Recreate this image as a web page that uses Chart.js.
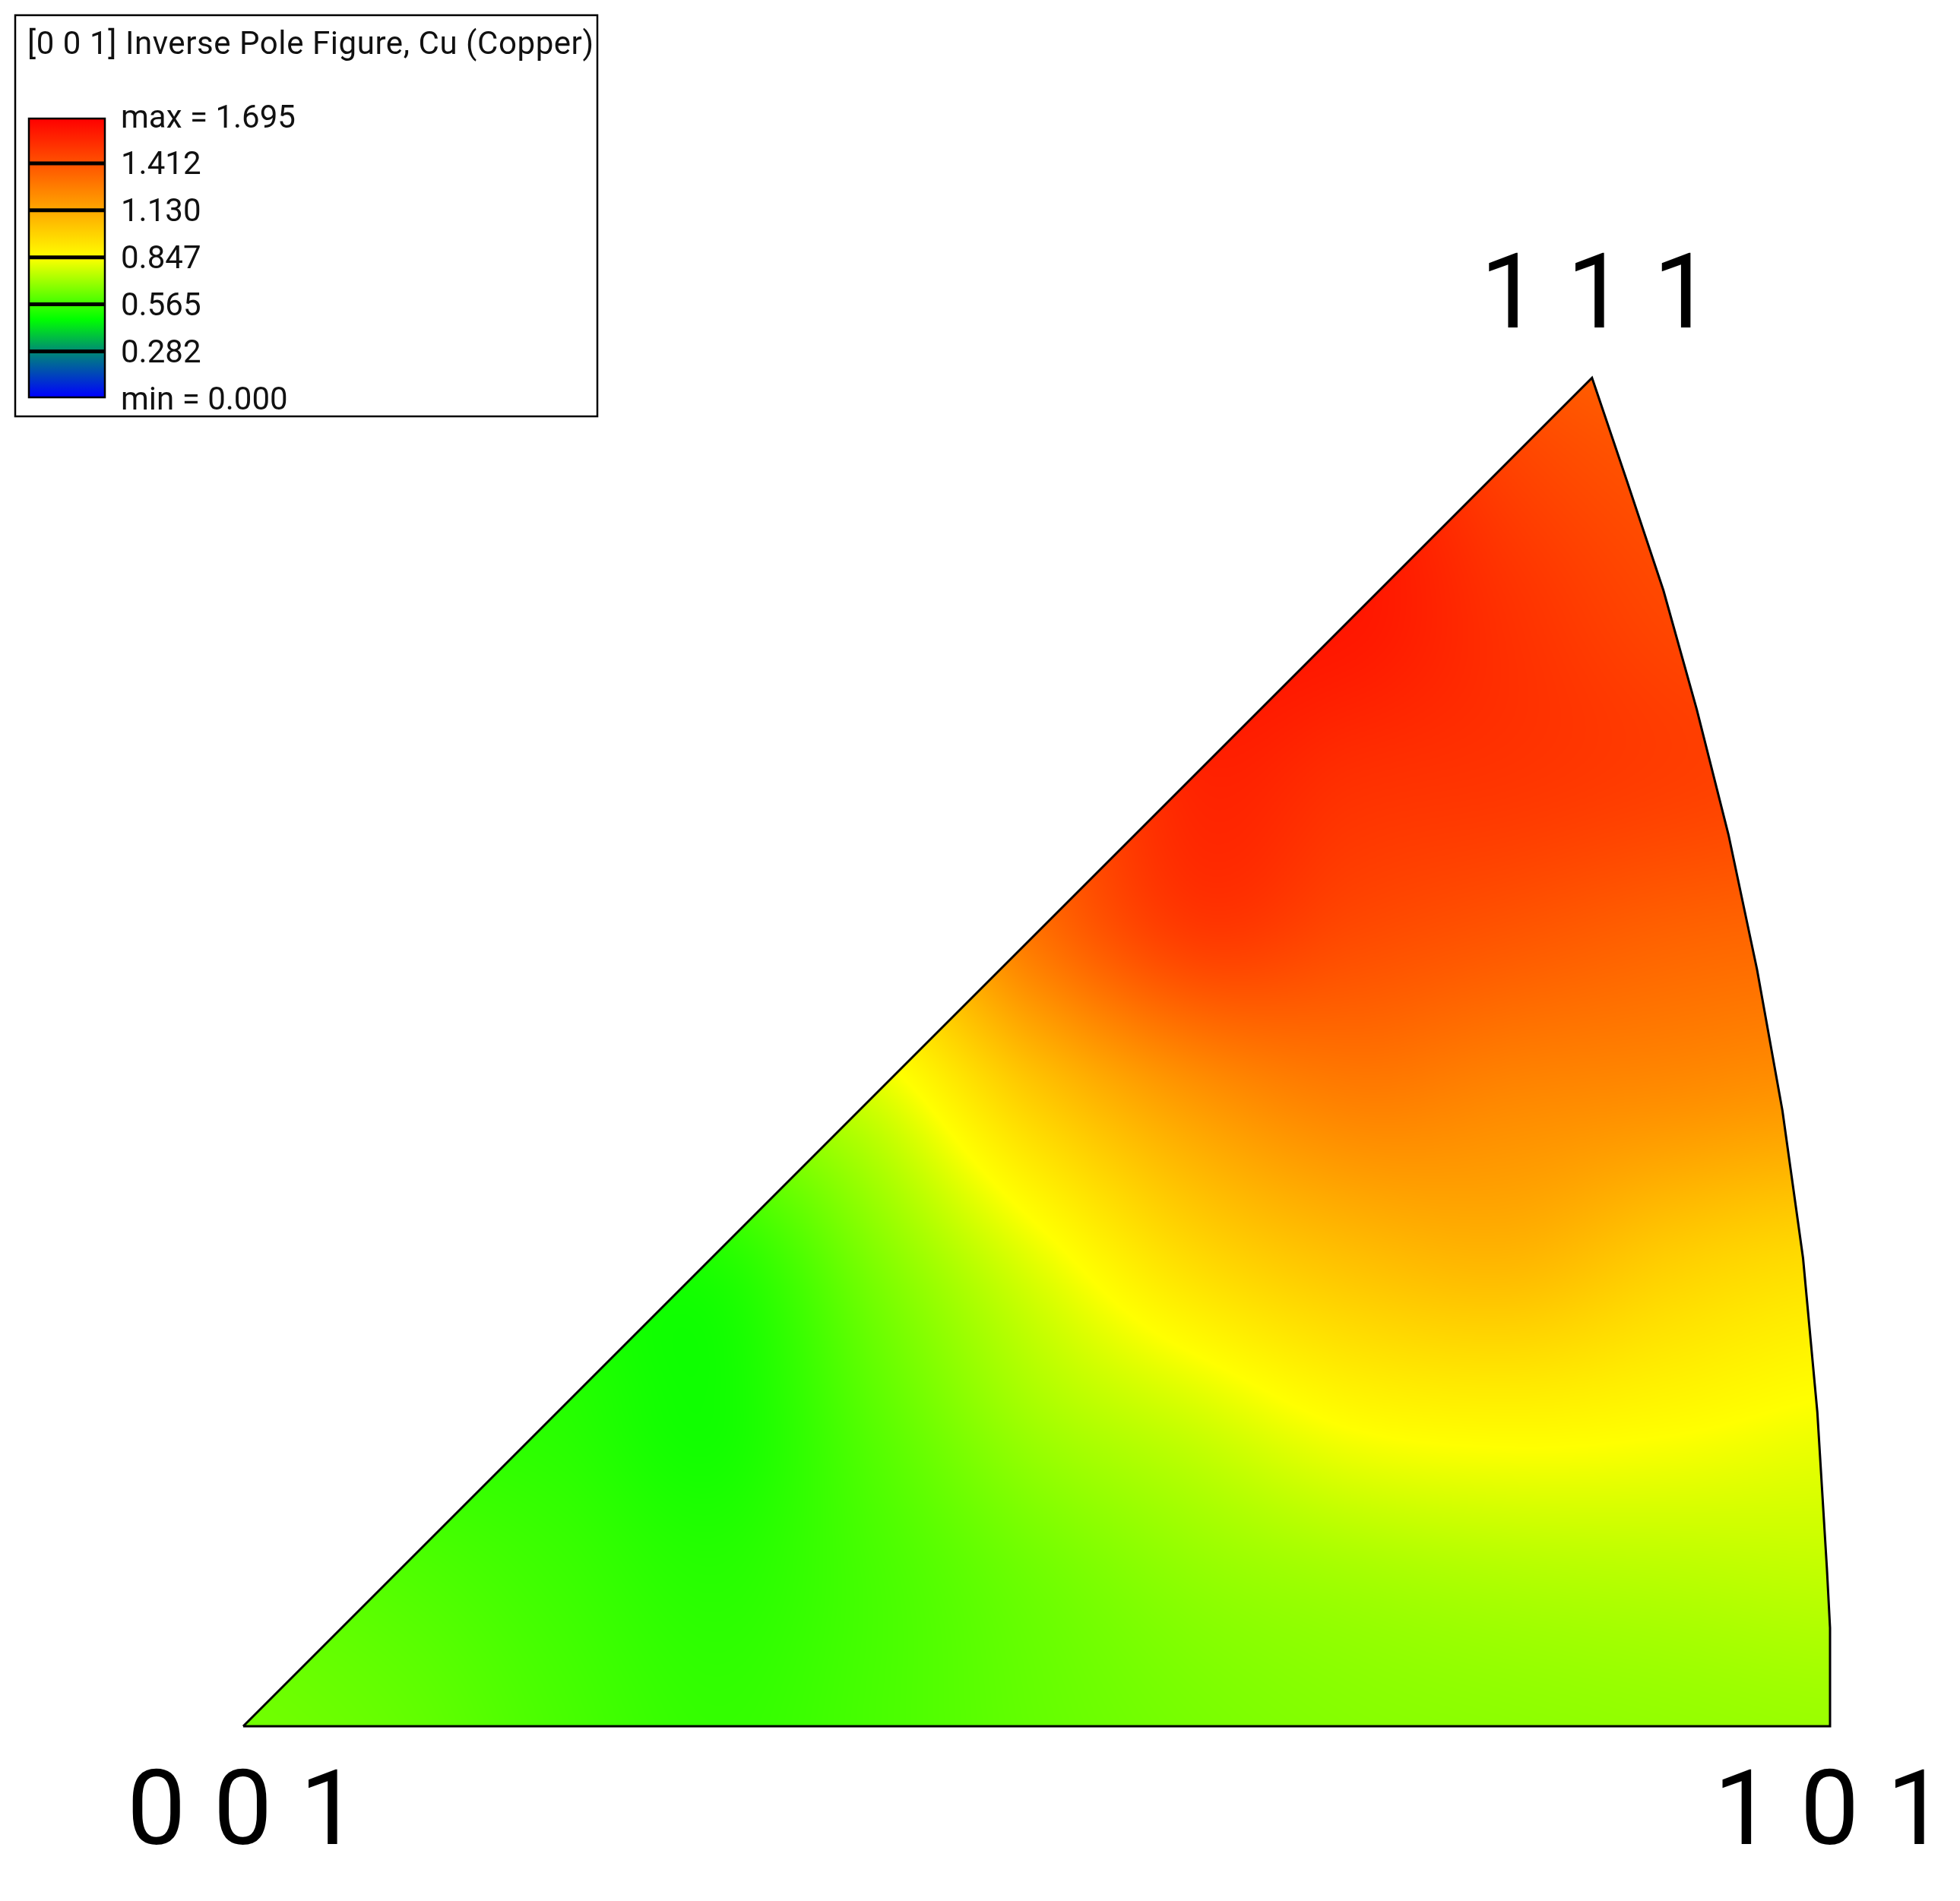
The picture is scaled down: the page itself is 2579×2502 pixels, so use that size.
<!DOCTYPE html>
<html>
<head>
<meta charset="utf-8">
<title>Inverse Pole Figure</title>
<script src="https://cdn.jsdelivr.net/npm/chart.js@4"></script>
<style>
  html, body { margin: 0; padding: 0; background: #fff; }
  canvas { display: block; }
</style>
</head>
<body>
<canvas id="ipfChart" width="2579" height="2502"></canvas>
<script>
// intensity, on a grid over the projected triangle
const gridX = [0, 0.1, 0.2, 0.3, 0.4, 0.5, 0.6, 0.7, 0.8, 0.9, 1.0, 1.1];
const gridY = [0, 0.1, 0.2, 0.3, 0.4, 0.5, 0.6, 0.7, 0.8, 0.9];
const row00 = [0.64, 0.62, 0.58, 0.55, 0.58, 0.62, 0.65, 0.67, 0.68, 0.69, 0.70, 0.70];
const row01 = [0.61, 0.59, 0.56, 0.53, 0.58, 0.64, 0.69, 0.72, 0.74, 0.75, 0.76, 0.76];
const row02 = [0.56, 0.54, 0.53, 0.50, 0.61, 0.72, 0.79, 0.87, 0.89, 0.87, 0.84, 0.84];
const row03 = [0.56, 0.54, 0.53, 0.53, 0.67, 0.82, 0.98, 1.07, 1.10, 1.02, 0.97, 0.97];
const row04 = [0.64, 0.68, 0.69, 0.71, 0.80, 1.03, 1.20, 1.28, 1.25, 1.23, 1.20, 1.20];
const row05 = [0.85, 0.88, 0.93, 0.98, 1.05, 1.32, 1.50, 1.45, 1.41, 1.37, 1.35, 1.35];
const row06 = [1.19, 1.19, 1.22, 1.27, 1.32, 1.42, 1.58, 1.54, 1.52, 1.49, 1.46, 1.46];
const row07 = [1.53, 1.53, 1.53, 1.56, 1.58, 1.61, 1.62, 1.62, 1.53, 1.46, 1.44, 1.44];
const row08 = [1.56, 1.56, 1.56, 1.56, 1.56, 1.56, 1.56, 1.58, 1.47, 1.41, 1.39, 1.39];
const row09 = [1.36, 1.36, 1.36, 1.36, 1.36, 1.36, 1.36, 1.36, 1.37, 1.33, 1.36, 1.36];
const intensity = [row00, row01, row02, row03, row04, row05, row06, row07, row08, row09];

// triangle outline, 001 -> 101 -> along the arc -> 111 -> back to 001
const outlineX = [0, 1, 1, 0.998, 0.992, 0.983, 0.970, 0.954, 0.936, 0.916, 0.895, 0.872, 0.85, 0];
const outlineY = [0, 0, 0.062, 0.100, 0.198, 0.295, 0.388, 0.477, 0.562, 0.641, 0.716, 0.785, 0.85, 0];

const poleLabels = ['0 0 1', '1 0 1', '1 1 1'];
const poleX = [0, 1, 0.85];
const poleY = [0, 0, 0.85];

const legendTitle = '[0 0 1] Inverse Pole Figure, Cu (Copper)';
const legendLabels = ['max = 1.695', '1.412', '1.130', '0.847', '0.565', '0.282', 'min = 0.000'];
const maxValue = 1.695;

// colour ramp of the legend: fraction of max, colour
const rampStops = [0, 0.167, 0.28, 0.5, 1];
const rampColors = [[0, 0, 255], [0, 140, 115], [0, 255, 0], [255, 255, 0], [255, 0, 0]];

function rampColor(v) {
    const t = Math.min(1, Math.max(0, v / maxValue));
    let i = 0;
    while (i < rampStops.length - 2 && t > rampStops[i + 1]) i++;
    const f = (t - rampStops[i]) / (rampStops[i + 1] - rampStops[i]);
    const a = rampColors[i], b = rampColors[i + 1];
    return [a[0] + (b[0] - a[0]) * f, a[1] + (b[1] - a[1]) * f, a[2] + (b[2] - a[2]) * f];
}

// Catmull-Rom weights, used only to shade between the grid values
function crWeights(f) {
    return [
        -0.5 * f * f * f + f * f - 0.5 * f,
        1.5 * f * f * f - 2.5 * f * f + 1,
        -1.5 * f * f * f + 2 * f * f + 0.5 * f,
        0.5 * f * f * f - 0.5 * f * f
    ];
}

function shadeAt(x, y) {
    const step = 0.1;
    const gx = Math.min(gridX.length - 1.001, Math.max(0, x / step));
    const gy = Math.min(gridY.length - 1.001, Math.max(0, y / step));
    const ix = Math.floor(gx), iy = Math.floor(gy);
    const wx = crWeights(gx - ix), wy = crWeights(gy - iy);
    let sum = 0;
    for (let j = 0; j < 4; j++) {
        const r = intensity[Math.min(gridY.length - 1, Math.max(0, iy - 1 + j))];
        for (let i = 0; i < 4; i++) {
            sum += wy[j] * wx[i] * r[Math.min(gridX.length - 1, Math.max(0, ix - 1 + i))];
        }
    }
    return sum;
}

// paints the colour field under the outline dataset
const fieldPlugin = {
    id: 'field',
    beforeDatasetsDraw(chart) {
        const { ctx, scales: { x: xs, y: ys } } = chart;
        const px = outlineX.map(v => xs.getPixelForValue(v));
        const py = outlineY.map(v => ys.getPixelForValue(v));
        const left = Math.floor(Math.min(...px)), right = Math.ceil(Math.max(...px));
        const top = Math.floor(Math.min(...py)), bottom = Math.ceil(Math.max(...py));
        const w = right - left, h = bottom - top;

        const off = document.createElement('canvas');
        off.width = w;
        off.height = h;
        const offCtx = off.getContext('2d');
        const img = offCtx.createImageData(w, h);
        for (let j = 0; j < h; j++) {
            const yv = ys.getValueForPixel(top + j);
            for (let i = 0; i < w; i++) {
                const c = rampColor(shadeAt(xs.getValueForPixel(left + i), yv));
                const k = (j * w + i) * 4;
                img.data[k] = c[0];
                img.data[k + 1] = c[1];
                img.data[k + 2] = c[2];
                img.data[k + 3] = 255;
            }
        }
        offCtx.putImageData(img, 0, 0);

        ctx.save();
        ctx.beginPath();
        px.forEach((p, i) => (i ? ctx.lineTo(p, py[i]) : ctx.moveTo(p, py[i])));
        ctx.closePath();
        ctx.clip();
        ctx.drawImage(off, left, top);
        ctx.restore();
    }
};

// corner labels and the legend box
const labelPlugin = {
    id: 'labels',
    afterDatasetsDraw(chart) {
        const { ctx, scales: { x: xs, y: ys } } = chart;
        ctx.save();
        ctx.fillStyle = '#000';
        ctx.textBaseline = 'alphabetic';
        ctx.textAlign = 'center';
        ctx.font = '138px Roboto';
        ctx.letterSpacing = '1px';
        poleLabels.forEach((text, i) => {
            const below = poleY[i] === 0;
            ctx.fillText(
                text,
                xs.getPixelForValue(poleX[i]) + (below ? 0 : 6),
                ys.getPixelForValue(poleY[i]) + (below ? 155 : -66)
            );
        });

        // legend frame
        ctx.fillStyle = '#fff';
        ctx.fillRect(20, 20, 766, 528);
        ctx.strokeStyle = '#000';
        ctx.lineWidth = 2.5;
        ctx.strokeRect(20, 20, 766, 528);

        ctx.fillStyle = '#111';
        ctx.textAlign = 'left';
        ctx.textBaseline = 'middle';
        ctx.font = '42px Roboto';
        ctx.letterSpacing = '0.57px';
        ctx.fillText(legendTitle, 36, 60);
        ctx.letterSpacing = '0px';

        // colour bar
        const barTop = 156, barBottom = 523, barLeft = 38, barRight = 138;
        const grad = ctx.createLinearGradient(0, barBottom, 0, barTop);
        rampStops.forEach((s, i) => {
            const c = rampColors[i];
            grad.addColorStop(s, `rgb(${c[0]},${c[1]},${c[2]})`);
        });
        ctx.fillStyle = grad;
        ctx.fillRect(barLeft, barTop, barRight - barLeft, barBottom - barTop);
        ctx.strokeRect(barLeft, barTop, barRight - barLeft, barBottom - barTop);

        const rowStep = 61.9;
        legendLabels.forEach((text, i) => {
            const y = 153 + i * rowStep;
            if (i > 0 && i < legendLabels.length - 1) {
                ctx.lineWidth = 5;
                ctx.beginPath();
                ctx.moveTo(barLeft, y);
                ctx.lineTo(barRight, y);
                ctx.stroke();
            }
            ctx.fillStyle = '#111';
            ctx.fillText(text, 159, y + 4);
        });
        ctx.restore();
    }
};

new Chart(document.getElementById('ipfChart').getContext('2d'), {
    type: 'scatter',
    data: {
        datasets: [{
            label: 'outline',
            data: outlineX.map((x, i) => ({ x, y: outlineY[i] })),
            showLine: true,
            fill: false,
            tension: 0,
            borderColor: '#000',
            borderWidth: 3,
            pointRadius: 0
        }]
    },
    options: {
        responsive: false,
        animation: false,
        layout: { padding: 0 },
        plugins: { legend: { display: false }, tooltip: { enabled: false } },
        scales: {
            x: { type: 'linear', display: false, min: -0.15326, max: 1.0819 },
            y: { type: 'linear', display: false, min: -0.11015, max: 1.08812 }
        }
    },
    plugins: [fieldPlugin, labelPlugin]
});
</script>
</body>
</html>
